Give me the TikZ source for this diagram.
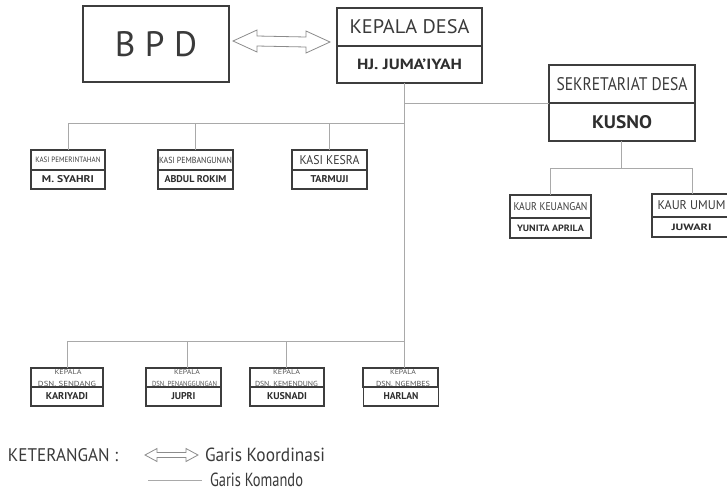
\documentclass[tikz,border=0pt]{standalone}
\usepackage{fontspec}
\setmainfont{PT Sans}
\usetikzlibrary{calc}
\definecolor{boxc}{HTML}{3D3D3D}
\definecolor{linec}{HTML}{A9A9A9}
\definecolor{txtc}{HTML}{3A3A3A}
\definecolor{smallc}{HTML}{555555}
\definecolor{namec}{HTML}{2E2E2E}
\definecolor{arrc}{HTML}{8C8C8C}
\newcommand\fw[2]{\resizebox{#1pt}{!}{#2}}
\newcommand\fwh[3]{\resizebox{#1pt}{#2pt}{#3}}
\begin{document}
\begin{tikzpicture}[x=1pt,y=-1pt,
  box/.style={draw=boxc, line width=1.4pt, inner sep=0pt, outer sep=0pt, text=txtc},
  namebox/.style={box, text=namec, font=\bfseries},
  small/.style={inner sep=0pt, text=smallc},
  txt/.style={inner sep=0pt, text=txtc},
  cmd/.style={draw=linec, line width=0.9pt},
  hollow/.style={draw=arrc, line width=0.8pt, fill=white, line join=miter}]
\useasboundingbox[fill=white] (0,0) rectangle (727,491);

% BPD and Kepala Desa
\node[box, minimum width=146pt, minimum height=76pt] (bpd) at (156,44) {\fwh{82}{25}{B P D}};
\node[box, minimum width=145pt, minimum height=38pt] (kdt) at (409.5,27) {\fwh{120}{14}{KEPALA DESA}};
\node[namebox, minimum width=145pt, minimum height=37pt] (kdb) at (409.5,64.5) {\fwh{105}{10.5}{HJ. JUMA'IYAH}};

% Sekretariat
\node[box, minimum width=146pt, minimum height=38pt] (sdt) at (622,84) {\fwh{131}{13}{SEKRETARIAT DESA}};
\node[namebox, minimum width=146pt, minimum height=38pt] (sdb) at (622,122) {\fwh{60}{13}{KUSNO}};

% Kasi
\node[box, minimum width=74pt, minimum height=20pt] (k1t) at (68,160) {\fwh{65}{5.5}{KASI PEMERINTAHAN}};
\node[namebox, minimum width=74pt, minimum height=19pt] (k1b) at (68,179.5) {\fwh{52}{7}{M. SYAHRI}};
\node[box, minimum width=75pt, minimum height=20pt] (k2t) at (195.5,160) {\fwh{73}{6.3}{KASI PEMBANGUNAN}};
\node[namebox, minimum width=75pt, minimum height=19pt] (k2b) at (195.5,179.5) {\fwh{62}{7}{ABDUL ROKIM}};
\node[box, minimum width=75pt, minimum height=20pt] (k3t) at (329.5,160) {\fwh{60}{9}{KASI KESRA}};
\node[namebox, minimum width=75pt, minimum height=19pt] (k3b) at (329.5,179.5) {\fwh{38}{7}{TARMUJI}};

% Kaur
\node[box, minimum width=81pt, minimum height=23pt] (ka1t) at (550.5,206.5) {\fwh{74}{8}{KAUR KEUANGAN}};
\node[namebox, minimum width=81pt, minimum height=20pt] (ka1b) at (550.5,228) {\fwh{67}{6.5}{YUNITA APRILA}};
\node[box, minimum width=79pt, minimum height=23pt] (ka2t) at (691.5,205.5) {\fwh{68}{9}{KAUR UMUM}};
\node[namebox, minimum width=79pt, minimum height=20pt] (ka2b) at (691.5,227) {\fwh{40}{6.5}{JUWARI}};

% Kepala dusun
\node[box, minimum width=72pt, minimum height=19pt] (d1t) at (67,377.5) {};
\node[small] (d1k) at (68,372.5) {\fwh{27}{4.8}{KEPALA}};
\node[small] (d1s) at (67,383.5) {\fwh{58}{5.2}{DSN. SENDANG}};
\node[namebox, minimum width=72pt, minimum height=19pt] (d1b) at (67,396.5) {\fwh{42}{7}{KARIYADI}};

\node[box, minimum width=75pt, minimum height=19pt] (d2t) at (183.5,377.5) {};
\node[small] (d2k) at (187,372.5) {\fwh{26}{4.8}{KEPALA}};
\node[small] (d2s) at (184.5,383.5) {\fwh{65}{5.2}{DSN. PENANGGUNGAN}};
\node[namebox, minimum width=75pt, minimum height=19pt] (d2b) at (183.5,396.5) {\fwh{24}{7}{JUPRI}};

\node[box, minimum width=74pt, minimum height=19pt] (d3t) at (287,377.5) {};
\node[small] (d3k) at (286.5,372.5) {\fwh{27}{4.8}{KEPALA}};
\node[small] (d3s) at (286.5,383.5) {\fwh{63}{5.2}{DSN. KEMENDUNG}};
\node[namebox, minimum width=74pt, minimum height=19pt] (d3b) at (287,396.5) {\fwh{40}{7}{KUSNADI}};

\node[box, minimum width=75pt, minimum height=19pt] (d4t) at (400.5,377.5) {};
\node[small] (d4k) at (403,372.5) {\fwh{26}{4.8}{KEPALA}};
\node[small] (d4s) at (403,383.5) {\fwh{54}{5.2}{DSN. NGEMBES}};
\node[namebox, minimum width=75pt, minimum height=19pt] (d4b) at (401,396.5) {\fwh{35}{7}{HARLAN}};

% coordination arrow BPD <-> Kepala Desa
\coordinate (al) at ($(bpd.east)+(4,-3)$);
\coordinate (ar) at ($(kdt.south west)+(-7,-4)$);
\draw[hollow] (al) -- ($(al)+(24,-11)$) -- ($(al)+(24,-5)$) -- ($(ar)+(-24,-5)$)
  -- ($(ar)+(-24,-11)$) -- (ar) -- ($(ar)+(-24,11)$) -- ($(ar)+(-24,5)$)
  -- ($(al)+(24,5)$) -- ($(al)+(24,11)$) -- cycle;

% command lines
\coordinate (tx) at (404,0);
\coordinate (kr) at (0,123);
\coordinate (kur) at (0,168);
\coordinate (dr) at (0,341);
\draw[cmd] (kdb.south -| tx) -- (d4t.north -| tx);
\draw[cmd] (tx |- sdb.north west) -- (sdb.north west);
\draw[cmd] (kr -| tx) -- (kr -| k1t.north) -- (k1t.north);
\draw[cmd] (k2t.north |- kr) -- (k2t.north);
\draw[cmd] (k3t.north |- kr) -- (k3t.north);
\draw[cmd] ($(sdb.south)+(-1,0)$) -- ($(sdb.south |- kur)+(-1,0)$);
\draw[cmd] (ka1t.north) -- (ka1t.north |- kur) -- ($(ka2t.north |- kur)+(0.5,0)$) -- ($(ka2t.north)+(0.5,0)$);
\draw[cmd] (dr -| tx) -- (dr -| d1t.north) -- (d1t.north);
\draw[cmd] ($(d2t.north |- dr)+(3.5,0)$) -- ($(d2t.north)+(3.5,0)$);
\draw[cmd] ($(d3t.north |- dr)+(-1,0)$) -- ($(d3t.north)+(-1,0)$);

% legend
\node[txt] (ket) at (63,455) {\fwh{110}{13}{KETERANGAN :}};
\coordinate (la1) at (145,455);
\coordinate (la2) at (198,455);
\draw[hollow] (la1) -- ($(la1)+(12,-6.5)$) -- ($(la1)+(12,-2.5)$) -- ($(la2)+(-12,-2.5)$)
  -- ($(la2)+(-12,-6.5)$) -- (la2) -- ($(la2)+(-12,6.5)$) -- ($(la2)+(-12,2.5)$)
  -- ($(la1)+(12,2.5)$) -- ($(la1)+(12,6.5)$) -- cycle;
\node[txt] (gk) at (265,455) {\fwh{120}{13.5}{Garis Koordinasi}};
\coordinate (lk1) at (148,480);
\coordinate (lk2) at (202,480);
\draw[cmd] (lk1) -- (lk2);
\node[txt] (gkm) at (256.5,479.5) {\fwh{93}{13.5}{Garis Komando}};
\end{tikzpicture}
\end{document}
